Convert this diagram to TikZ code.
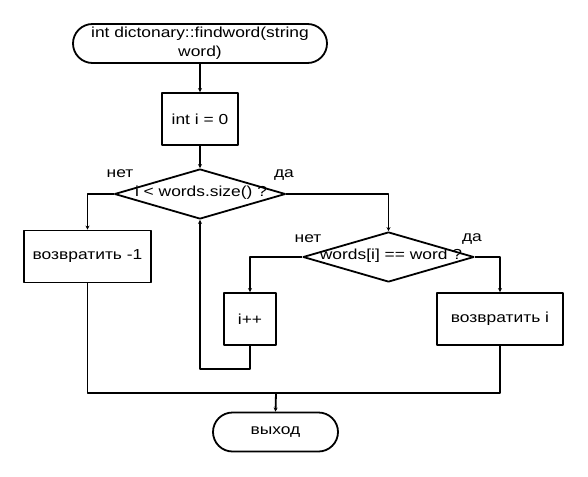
\documentclass[tikz,border=0pt]{standalone}
\usepackage{fontspec}
\setmainfont{Liberation Sans}[FakeStretch=1.2]
\usetikzlibrary{shapes.geometric,shapes.misc,arrows.meta}
\begin{document}
\begin{tikzpicture}[x=1pt,y=-1pt,
  every node/.style={font=\fontsize{14.5}{19}\selectfont, inner sep=0pt},
  line/.style={line width=1.8pt, line join=round},
  arr/.style={line, -{Stealth[length=4pt,width=4pt]}},
  term/.style={line, draw, rounded rectangle, minimum height=39pt},
  proc/.style={line, draw, rectangle, minimum height=52pt},
  dec/.style={line, draw, diamond, aspect=3.4, minimum width=171pt, minimum height=50pt}]
\useasboundingbox (0,0) rectangle (588,476);
\fill[white] (0,0) rectangle (588,476);
% nodes
\node[term, minimum width=254pt, align=center] (start) at (200,43.5) {int dictonary::findword(string\\word)};
\node[proc, minimum width=76pt] (init) at (200,119) {int i = 0};
\node[dec] (d1) at (200,194) {};
\node at (201,193) {i < words.size() ?};
\node[proc, minimum width=127pt] (ret1) at (87.5,256.5) {возвратить -1};
\node[dec] (d2) at (388.5,257) {};
\node at (391,256) {words[i] == word ?};
\node[proc, minimum width=52pt] (inc) at (250,319) {i++};
\node[proc, minimum width=126pt] (reti) at (500,319) {возвратить i};
\node[term, minimum width=125pt] (stop) at (275.5,432) {выход};
% labels
\node (n1) at (120,174) {нет};
\node (y1) at (284,175) {да};
\node (n2) at (308,239) {нет};
\node (y2) at (472,239) {да};
% coordinates
\coordinate (loop) at (200,369);
\coordinate (merge) at (276,393);
% connectors
\draw[arr] (start.south) -- (init.north);
\draw[arr] (init.south) -- (d1.north);
\draw[arr] (d1.west) -| (ret1.north);
\draw[arr] (d1.east) -| (d2.north);
\draw[arr] (d2.west) -| (inc.north);
\draw[arr] (d2.east) -| (reti.north);
\draw[arr] (inc.south) |- (loop) -- (d1.south);
\draw[line] (ret1.south) |- (merge);
\draw[line] (reti.south) |- (merge);
\draw[arr] (merge) -- (stop.north);
\end{tikzpicture}
\end{document}
